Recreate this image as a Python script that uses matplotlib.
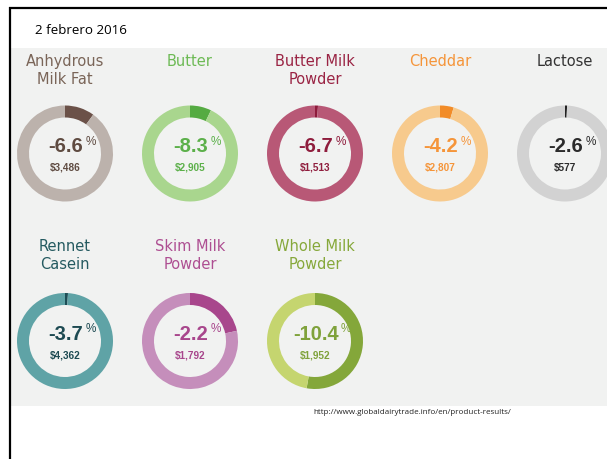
import matplotlib
matplotlib.use("Agg")
import matplotlib.pyplot as plt
from matplotlib.patches import Rectangle

# GDT product results, 2 Feb 2016
products = ["Anhydrous\nMilk Fat", "Butter", "Butter Milk\nPowder", "Cheddar",
            "Lactose", "Rennet\nCasein", "Skim Milk\nPowder", "Whole Milk\nPowder"]
changes = [-6.6, -8.3, -6.7, -4.2, -2.6, -3.7, -2.2, -10.4]
prices = [3486, 2905, 1513, 2807, 577, 4362, 1792, 1952]
shares = [0.10, 0.072, 0.01, 0.046, 0.007, 0.01, 0.216, 0.528]

ring_colors = ["#bcb2ac", "#a9d68e", "#b85876", "#f7ca8d", "#d2d2d2", "#5fa3a6", "#c58ebb", "#c5d56f"]
seg_colors = ["#6b5148", "#55ab42", "#8e1b3c", "#f28c28", "#222222", "#1d4e56", "#a8468c", "#84a73a"]
text_colors = ["#5f4b41", "#5cb04a", "#8f1d3d", "#f5953a", "#2b2b2b", "#1d4a52", "#a8468c", "#7fa23b"]
name_colors = ["#7a6558", "#6dba55", "#9a2444", "#f5953a", "#333333", "#245a60", "#ae4f92", "#86a83a"]

W, H = 607, 459
fig = plt.figure(figsize=(W / 100, H / 100), dpi=100)
fig.patch.set_facecolor("white")

bg = fig.add_axes([0, 0, 1, 1])
bg.set_xlim(0, W)
bg.set_ylim(H, 0)
bg.axis("off")

bg.add_patch(Rectangle((10, 48), W - 10, 358, facecolor="#f1f2f1", edgecolor="none"))
bg.plot([8.5, W], [7.5, 7.5], color="black", lw=1.6, solid_capstyle="butt")
bg.plot([9.5, 9.5], [7, H], color="black", lw=1.6, solid_capstyle="butt")

bg.text(35, 31, "2 febrero 2016", fontsize=9.6, family="Open Sans", va="center", ha="left", color="black")
bg.text(412, 413, "http://www.globaldairytrade.info/en/product-results/", fontsize=5.8,
        family="Open Sans", va="center", ha="center", color="#222222")

xs = [65, 190, 315, 440, 565]
ys = [153.5, 341]
R = 48

for i, name in enumerate(products):
    cx = xs[i % 5]
    cy = ys[i // 5]
    top = 54 if i < 5 else 239

    bg.text(cx, top, name, fontsize=10.5, family="DejaVu Sans", color=name_colors[i],
            ha="center", va="top", linespacing=1.25)

    pax = fig.add_axes([(cx - R) / W, 1 - (cy + R) / H, 2 * R / W, 2 * R / H])
    pax.pie([shares[i], 1 - shares[i]], colors=[seg_colors[i], ring_colors[i]],
            startangle=90, counterclock=False, radius=1,
            wedgeprops=dict(width=0.25, edgecolor="none"))
    pax.set_xlim(-1.0, 1.0)
    pax.set_ylim(-1.0, 1.0)
    pax.axis("off")

    t = bg.text(cx + 1, cy - 7, f"{changes[i]:.1f}", fontsize=14.5, weight="bold",
                family="Liberation Sans", color=text_colors[i], ha="center", va="center")
    bg.annotate("%", xy=(1, 1), xycoords=t, xytext=(1.5, 1), textcoords="offset points",
                fontsize=8.5, family="Liberation Sans", color=text_colors[i], ha="left", va="top")
    bg.text(cx, cy + 14.5, f"${prices[i]:,}", fontsize=7.2, weight="bold",
            family="Liberation Sans", color=text_colors[i], ha="center", va="center")

fig.savefig("out.png", dpi=100)
